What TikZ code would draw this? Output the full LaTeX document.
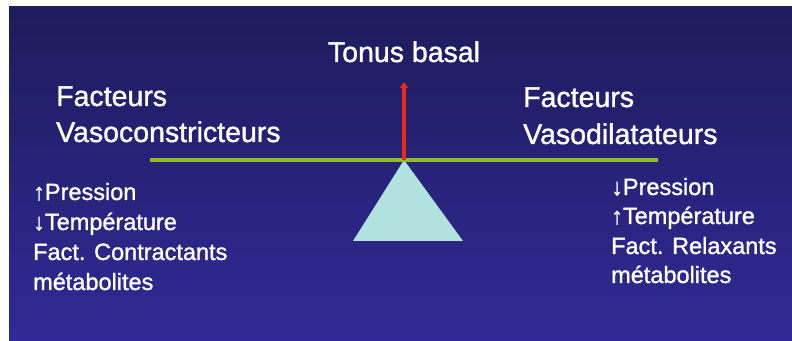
\documentclass[tikz,border=0pt]{standalone}
\usepackage{fontspec}
\setmainfont{Liberation Sans}
\newfontfamily\glowfont{Liberation Sans}[FakeBold=1.2]
\usetikzlibrary{arrows.meta}
\definecolor{bgtop}{RGB}{30,28,92}
\definecolor{bgbot}{RGB}{48,42,150}
\definecolor{beamgreen}{RGB}{140,192,42}
\definecolor{arrowred}{RGB}{232,42,22}
\definecolor{pivotfill}{RGB}{178,226,222}
\begin{document}
\begin{tikzpicture}[x=1pt,y=1pt,
  big/.style={text=white,inner sep=0pt,anchor=base west,font=\glowfont\fontsize{28.5}{32}\selectfont},
  small/.style={text=white,inner sep=0pt,anchor=base west,font=\glowfont\fontsize{23.5}{26}\selectfont}]
\useasboundingbox (0,0) rectangle (792,340);
\shade[top color=bgtop,bottom color=bgbot] (9,0) rectangle (792,333);
% balance
\coordinate (pivot) at (404,180);
\coordinate (beamL) at (150,180);
\coordinate (beamR) at (658,180);
\coordinate (baseL) at (353,99);
\coordinate (baseR) at (463,99);
\fill[pivotfill] (pivot) -- (baseR) -- (baseL) -- cycle;
\draw[beamgreen,line width=3.5pt] (beamL) -- (beamR);
\node[big,anchor=base] (tonus) at (404,278) {Tonus basal};
\coordinate (tip) at (404,258);
\draw[arrowred,line width=3.5pt,-{Triangle[length=6pt,width=8pt]}] (pivot) -- (tip);
% left titles
\node[big] (fl) at (56,234) {Facteurs};
\node[big] (vc) at (56,198) {Vasoconstricteurs};
% right titles
\node[big] (fr) at (523,233) {Facteurs};
\node[big] (vd) at (523,196) {Vasodilatateurs};
% left list
\node[small] (l1) at (33,140) {↑Pression};
\node[small] (l2) at (33,110) {↓Température};
\node[small] (l3) at (33,80) {Fact. Contractants};
\node[small] (l4) at (33,50) {métabolites};
% right list
\node[small] (r1) at (611,145) {↓Pression};
\node[small] (r2) at (611,116) {↑Température};
\node[small] (r3) at (611,86) {Fact. Relaxants};
\node[small] (r4) at (611,57) {métabolites};
\end{tikzpicture}
\end{document}
